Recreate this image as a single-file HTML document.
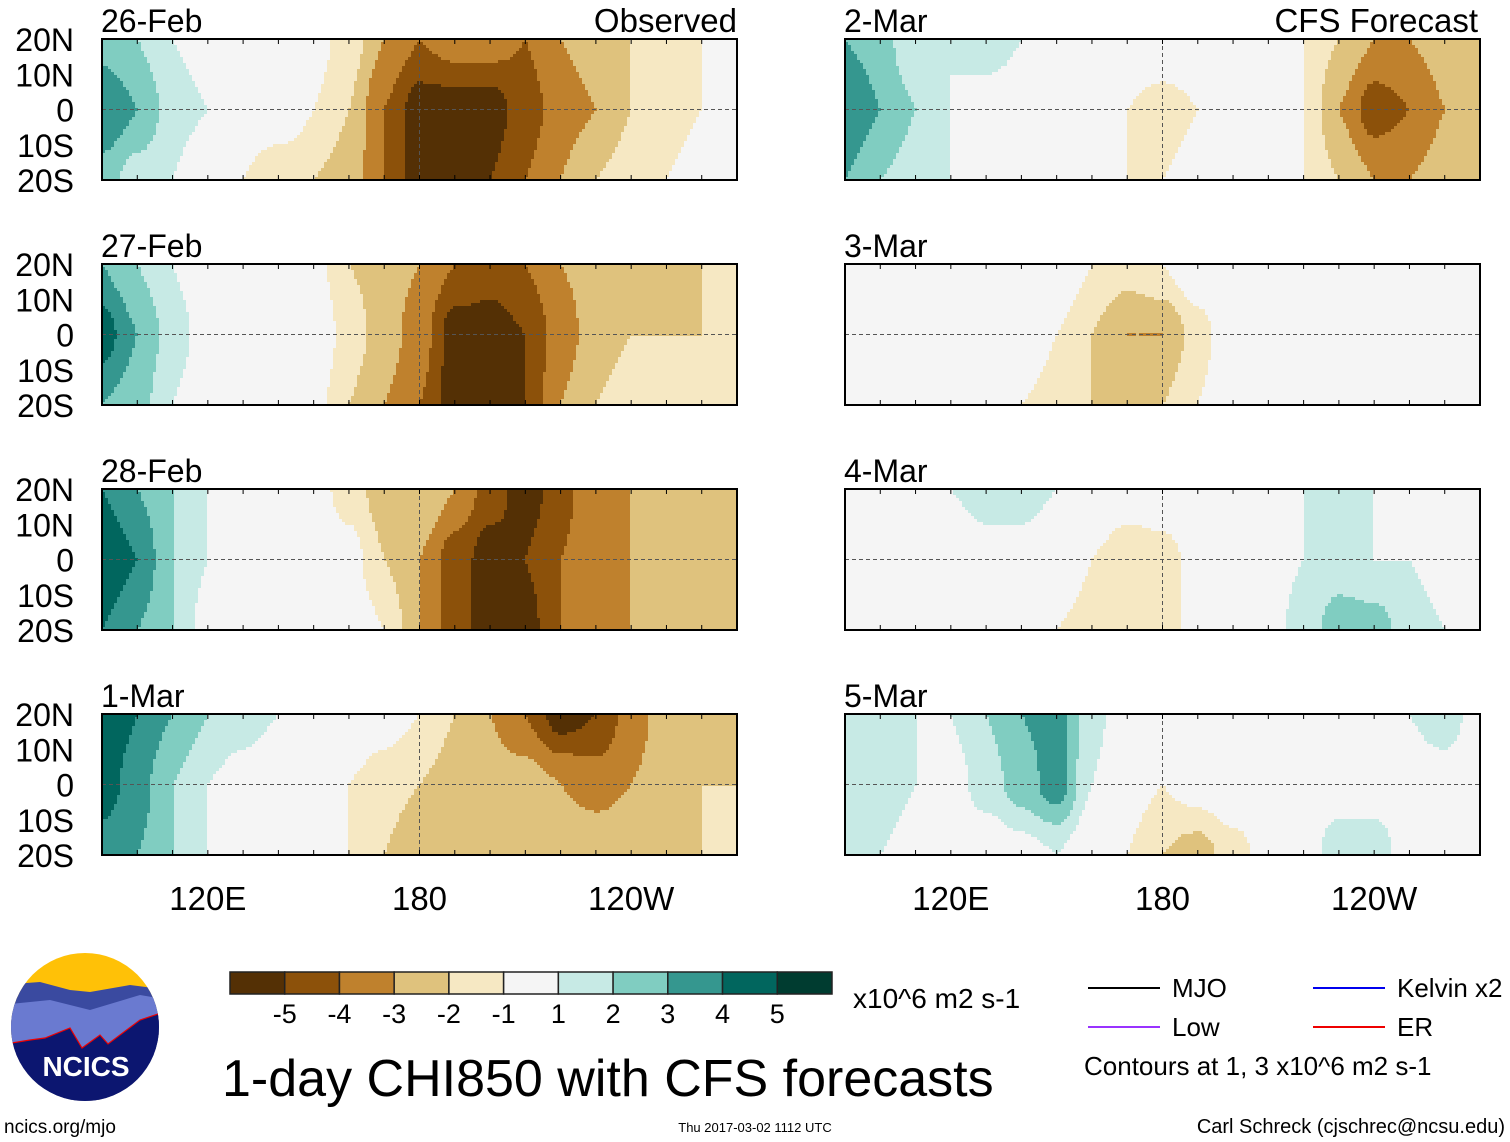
<!DOCTYPE html>
<html><head><meta charset="utf-8">
<style>
body{margin:0;background:#fff;width:1510px;height:1142px;position:relative;overflow:hidden;font-family:"Liberation Sans",sans-serif;color:#000}
</style></head><body>
<svg id="svg" width="1510" height="1142" style="position:absolute;left:0;top:0"></svg>
<script>
// Data: longitudes 90E..270E step 10; rows at 20N, EQ, 20S
const lons=[90,100,110,120,130,140,150,160,170,180,190,200,210,220,230,240,250,260,270];
const dates=["26-Feb","27-Feb","28-Feb","1-Mar","2-Mar","3-Mar","4-Mar","5-Mar"];
const p1N=[2.5,2,1,0.5,0,0,-0.5,-1.5,-3,-4,-3.5,-3.5,-4,-3,-2.5,-2,-1.5,-1,-0.5];
const p1E=[4,3,1.5,1,0,0,-1,-2,-4,-5.5,-5.5,-5.5,-4.5,-3.5,-3,-2,-1.5,-1,-0.5];
const p1S=[2.5,1.5,1,0,-1,-2,-2,-2.5,-4,-5.5,-5.5,-5,-4,-3,-2,-1.5,-1,-0.5,-0.5];
const p2N=[3,2,1,0,0,0,-0.5,-2,-2.5,-3,-4,-4.5,-4,-3,-2.5,-2,-2,-2,-2];
const p2E=[4.5,3,1.5,0.5,0,0.5,0,-1.5,-2.5,-3.5,-5.5,-5.5,-5,-3.5,-2.5,-2,-2,-2,-1.5];
const p2S=[3,2.5,1,0,0,0,-0.5,-2,-3,-4,-5.5,-5.5,-5,-3,-2,-1.5,-1,-1,-1];
const p3N=[4,3,2,1,0,0,-0.5,-1.5,-2.5,-2,-3,-4.5,-5.5,-4.5,-3,-3,-2.5,-2.5,-2];
const p3E=[5,4,2,1,0,0,0,-0.5,-2,-3,-4.5,-5.5,-5,-4,-3,-3,-2,-2.5,-2];
const p3S=[4,3,2,0.5,0,0,0,0,-1,-3,-4.5,-5.5,-5.5,-4,-3.5,-3,-2.5,-2,-2];
const p4N=[5,4,3,2,1.5,1,1,0,-0.5,-1,-2,-3,-4,-5.5,-5,-3.5,-2.5,-2,-2];
const p4E=[4.5,3.5,2,1,0.5,0,0,-1,-1.5,-2,-2.5,-2.5,-2.5,-3,-3.5,-3,-2.5,-2,-2];
const p4S=[3.5,3,2,1,0,0,-0.5,-1,-2,-3,-3,-2,-2,-2,-2,-2,-2,-2,-1.5];
const p5N=[3,2.5,1,1,1.5,1,1,0.5,0,0,0,0,0,-1,-2,-3,-3,-2.5,-2];
const p5E=[4,3,2,1,0.5,0.5,0,0,-1,-1.5,-1,0,0,-1,-3,-4.5,-4,-3,-2];
const p5S=[3,2,1.5,1,0.5,0,0,0,-1,-1,-0.5,0,0,-1,-2,-3,-3,-2.5,-2];
const p6N=[1,1,0.5,1,1,0,0,-1,-1.5,-1,0,0,1,1,1,1,0.5,0.5,0];
const p6E=[1,0.5,0,0,0,0,-1,-2,-3,-3,-1.5,0,0,1,1,0.5,0.5,0.5,0];
const p6S=[0.5,0,0,0,0,-1,-1.5,-2,-3,-2,-1,0,0,1,1,0.5,0,0,0];
const p7N=[1,1,0,1,1.5,1.5,1,1,0,0,0,1,1,1,1.5,1,1,0.5,0];
const p7E=[0.5,0.5,0,0,0.5,0.5,0,-1,-2,-1.5,-0.5,0,0.5,1,1.5,1,1,0.5,0];
const p7S=[0.5,0.5,0,0,0,0,-1,-1.5,-2,-1.5,-0.5,0,0.5,1.5,2.5,2.5,1.5,1,0];
const p8N=[2,1.5,1,1,2,3,3.5,1.5,0,0,0,0,0,0.5,1,1,1,1.5,0.5];
const p8E=[2,1.5,1,0.5,1.5,2.5,3.5,1,-0.5,-1,-0.5,0,0,0.5,0.5,0.5,0.5,0.5,0];
const p8S=[1.5,1,0.5,0,0,0.5,1,0,-1,-2,-2.5,-1.5,-0.5,0.5,1.5,1.5,0.5,0.5,0];
const fields=[[p1N,p1E,p1S],[p2N,p2E,p2S],[p3N,p3E,p3S],[p4N,p4E,p4S],[p5N,p5E,p5S],[p6N,p6E,p6S],[p7N,p7E,p7S],[p8N,p8E,p8S]];
const levels=[-5,-4,-3,-2,-1,1,2,3,4,5];
const levelLabels=["-5","-4","-3","-2","-1","1","2","3","4","5"];
const colors=["#543005","#8c510a","#bf812d","#dfc27d","#f6e8c3","#f5f5f5","#c7eae5","#80cdc1","#35978f","#01665e","#003c30"];
const latLabels=["20N","10N","0","10S","20S"];
const lonTicks=[120,180,240];const lonTickLabels=["120E","180","120W"];

const svg=document.getElementById('svg');const NS="http://www.w3.org/2000/svg";
function el(tag,attrs,parent){const e=document.createElementNS(NS,tag);for(const k in attrs)e.setAttribute(k,attrs[k]);(parent||svg).appendChild(e);return e;}
function txt(x,y,s,size,anchor,parent){const t=el('text',{x:x,y:y,'font-size':size,'text-anchor':anchor||'start','font-family':'Liberation Sans, sans-serif'},parent);t.textContent=s;return t;}
const W=635,H=141;
const colX=[102,845],rowY=[39,264,489,714];
function colorFor(v){let i=0;while(i<levels.length&&v>levels[i])i++;return colors[i];}
function interp(arr,lon){let f=(lon-90)/10;let i=Math.min(Math.floor(f),lons.length-2);let t=f-i;t=t*t*(3-2*t);return arr[i]*(1-t)+arr[i+1]*t;}
fields.forEach((fd,p)=>{
  const col=p<4?0:1,row=p%4;const X=colX[col],Y=rowY[row];
  const xs=lon=>X+(lon-90)/180*W, ys=lat=>Y+(20-lat)/40*H;
  const g=el('g',{},svg);
  
  
  const c=3;
  for(let px=0;px<W;px+=c){const lon=90+(px+c/2)/W*180;
    const n=interp(fd[0],lon),e=interp(fd[1],lon),s=interp(fd[2],lon);
    let run=null,start=0;
    for(let py=0;py<=H;py+=c){let col2=null;
      if(py<H){const lat=20-(py+c/2)/H*40;let v;
        if(lat>=0){let t=lat/20;t=t*t*(3-2*t);v=e*(1-t)+n*t;}else{let t=-lat/20;t=t*t*(3-2*t);v=e*(1-t)+s*t;}
        col2=colorFor(v);}
      if(col2!==run){if(run){el('rect',{x:X+px,y:Y+start,width:Math.min(c,W-px)+0.5,height:Math.min(py,H)-start+0.5,fill:run},g);}
        run=col2;start=py;}
    }
  }
  el('line',{x1:X,x2:X+W,y1:ys(0),y2:ys(0),stroke:'#555','stroke-dasharray':'4,3','stroke-width':1},g);
  el('line',{x1:xs(180),x2:xs(180),y1:Y,y2:Y+H,stroke:'#555','stroke-dasharray':'4,3','stroke-width':1},g);
  el('rect',{x:X,y:Y,width:W,height:H,fill:'none',stroke:'#000','stroke-width':2},g);
  for(let lon=90;lon<=270;lon+=10){el('line',{x1:xs(lon),x2:xs(lon),y1:Y,y2:Y+5,stroke:'#000'},g);el('line',{x1:xs(lon),x2:xs(lon),y1:Y+H,y2:Y+H-5,stroke:'#000'},g);}
  const d=txt(X-1,Y-7,dates[p],32,'start',g);
  
  if(col===0){latLabels.forEach((l,i)=>txt(74,Y+i*H/4+12,l,32,'end',g));}
  if(row===3){lonTicks.forEach((lon,i)=>txt(xs(lon),Y+H+55,lonTickLabels[i],33,'middle',g));}
});
const o=txt(737,32,"Observed",33,'end');
const f=txt(1478,32,"CFS Forecast",33,'end');
// colorbar
const cb=el('g',{});
const bx=230,bw=602/colors.length;
colors.forEach((cc,i)=>{el('rect',{x:bx+i*bw,y:972,width:bw,height:22,fill:cc,stroke:'#222','stroke-width':1.5},cb);});
levelLabels.forEach((l,i)=>txt(bx+(i+1)*bw,1023,l,27,'middle',cb));
txt(853,1008,"x10^6 m2 s-1",28,'start');
// legend
const lg=el('g',{});
[[1088,988,"#000","MJO"],[1088,1027,"#9933ff","Low"],[1313,988,"#0000ee","Kelvin x2"],[1313,1027,"#ee0000","ER"]].forEach(a=>{
 el('line',{x1:a[0],x2:a[0]+72,y1:a[1],y2:a[1],stroke:a[2],'stroke-width':2},lg);txt(a[0]+84,a[1]+9,a[3],26,'start',lg);});
txt(1084,1075,"Contours at 1, 3 x10^6 m2 s-1",26,'start',lg);
const tt=txt(222,1096,"1-day CHI850 with CFS forecasts",52,'start');
txt(4,1133,"ncics.org/mjo",19,'start');
txt(755,1132,"Thu 2017-03-02 1112 UTC",13,'middle');
txt(1505,1133,"Carl Schreck (cjschrec@ncsu.edu)",20,'end');
// logo
const lo=el('g',{});
el('clipPath',{id:'cl'},lo);el('ellipse',{cx:85,cy:1027,rx:74,ry:74},document.getElementById('cl'));
const lc=el('g',{'clip-path':'url(#cl)'},lo);
el('rect',{x:0,y:950,width:170,height:160,fill:'#ffc107'},lc);
el('path',{d:'M0 985 L40 982 L70 990 L90 992 L130 985 L170 990 L170 1150 L0 1150Z',fill:'#3a4aa0'},lc);
el('path',{d:'M0 1005 L50 1000 L90 1010 L140 995 L170 1000 L170 1150 L0 1150Z',fill:'#6a7ad0'},lc);
el('path',{d:'M0 1045 L30 1040 L45 1038 L70 1028 L82 1048 L100 1035 L108 1044 L140 1020 L170 1010 L170 1150 L0 1150Z',fill:'#0c1670',stroke:'#e00','stroke-width':1.2},lc);
const nt=txt(86,1076,"NCICS",28,'middle',lo);nt.setAttribute('fill','#fff');nt.setAttribute('font-weight','bold');
</script>
</body></html>
